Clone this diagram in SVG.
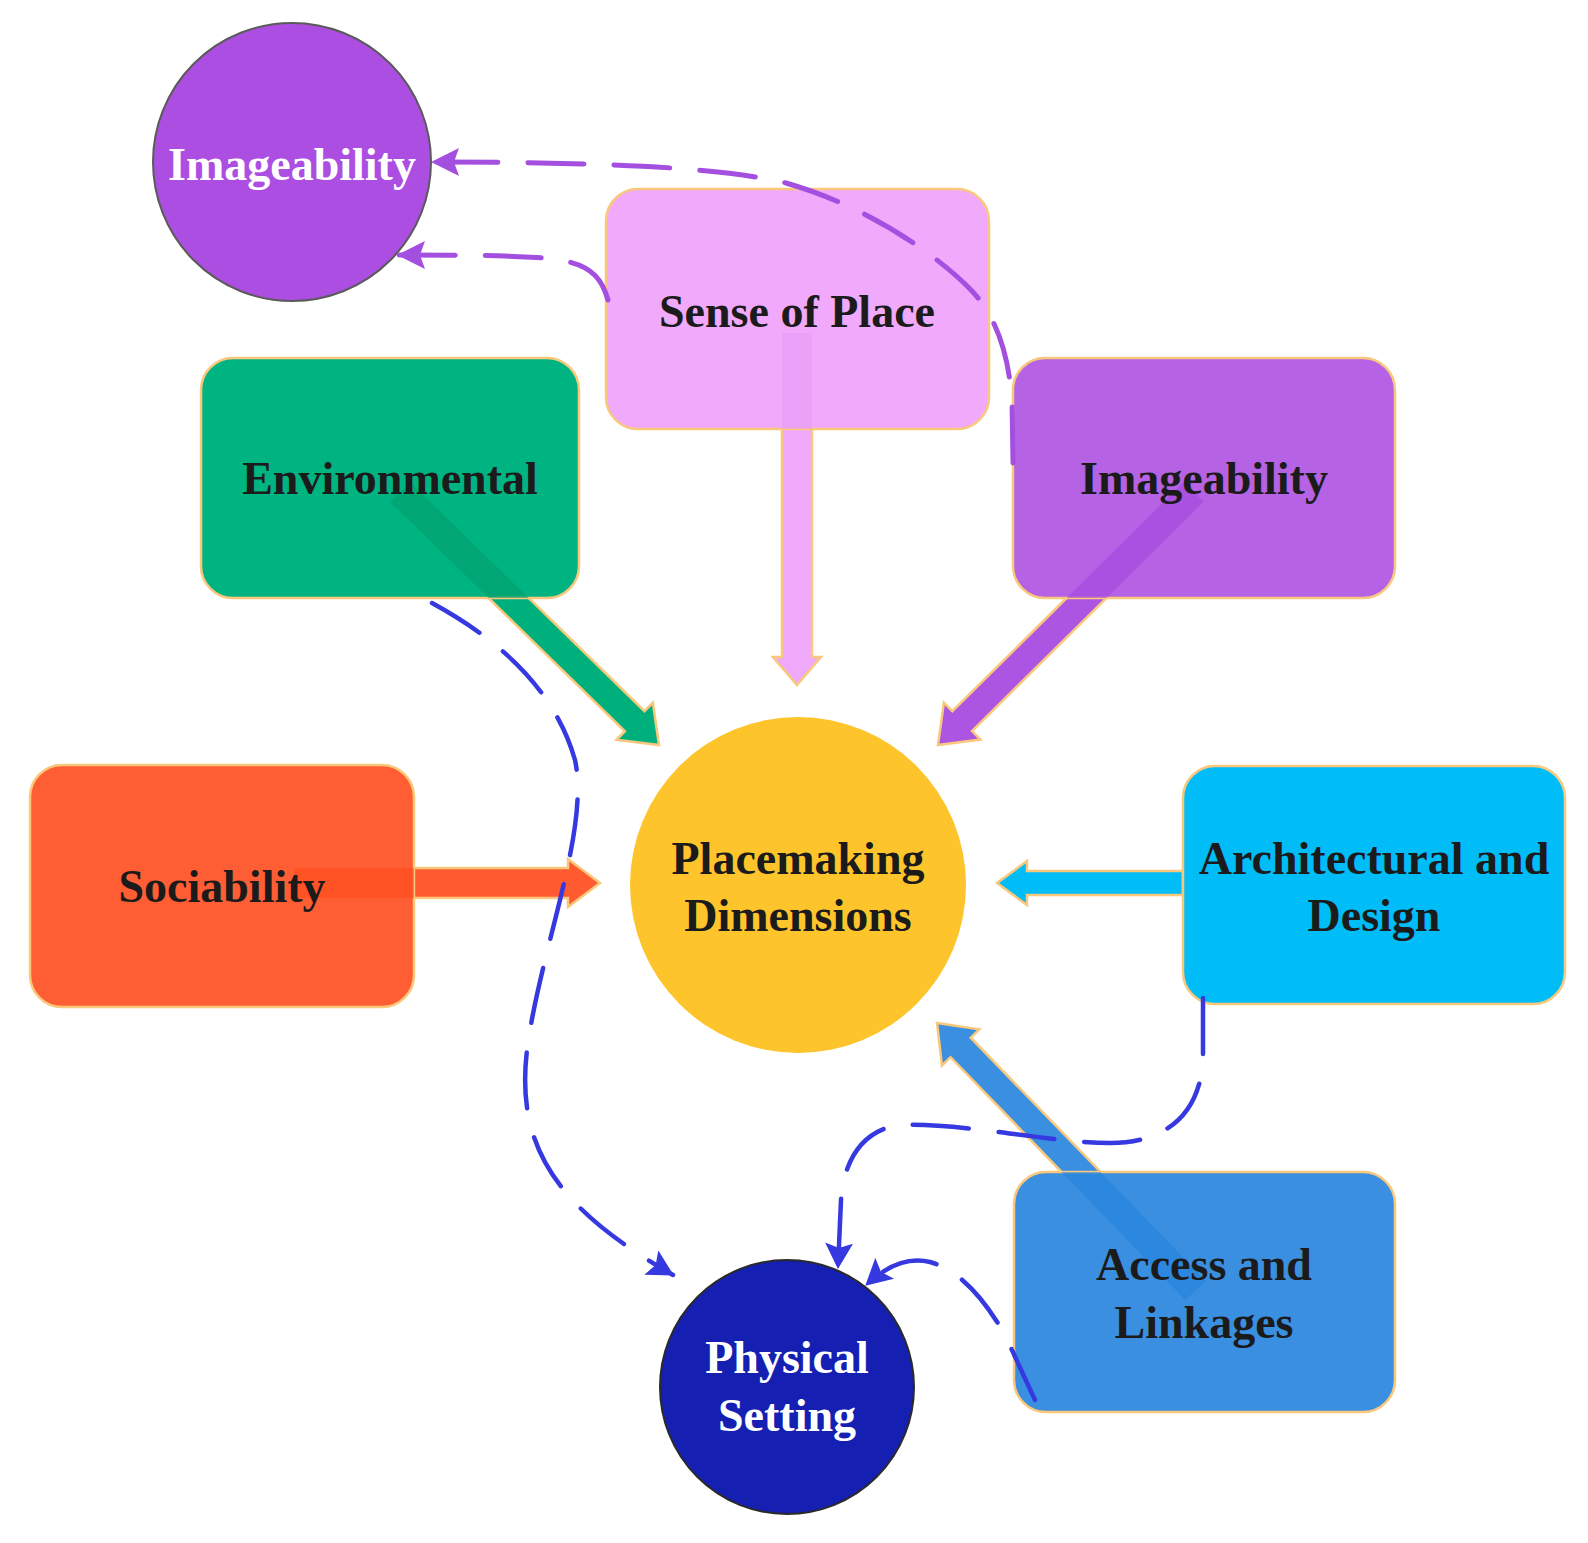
<svg xmlns="http://www.w3.org/2000/svg" width="1588" height="1543" viewBox="0 0 1588 1543">
<defs>
<style>
.box{stroke:#f9c87c;stroke-width:2.5}
.lbl{font-family:"Liberation Serif","DejaVu Serif",serif;font-weight:bold;font-size:46px;text-anchor:middle;fill:#1b1b1b}
.wlbl{font-family:"Liberation Serif","DejaVu Serif",serif;font-weight:bold;font-size:46px;text-anchor:middle;fill:#ffffff}
.blk{stroke:#f9c87c;stroke-width:2.5;stroke-linejoin:miter}
.ov{stroke:none;opacity:0.55}
.dp{fill:none;stroke:#a34fe0;stroke-width:5;stroke-dasharray:56 30;stroke-linecap:round}
.db{fill:none;stroke:#3539df;stroke-width:4.5;stroke-dasharray:56 30;stroke-linecap:round}
</style>
<clipPath id="cSense"><rect x="606" y="189" width="383" height="240" rx="32"/></clipPath>
<clipPath id="cEnv"><rect x="201" y="358" width="378" height="240" rx="32"/></clipPath>
<clipPath id="cImg"><rect x="1013" y="358" width="382" height="240" rx="32"/></clipPath>
<clipPath id="cSoc"><rect x="30" y="765" width="384" height="242" rx="32"/></clipPath>
<clipPath id="cAcc"><rect x="1014" y="1172" width="381" height="240" rx="32"/></clipPath>
<marker id="mp" viewBox="0 0 28 28" refX="27" refY="14" markerWidth="28" markerHeight="28" markerUnits="userSpaceOnUse" orient="auto">
<path d="M0,0 L28,14 L0,28 L5,14 Z" fill="#a34fe0"/>
</marker>
<marker id="mb" viewBox="0 0 26 28" refX="25" refY="14" markerWidth="26" markerHeight="28" markerUnits="userSpaceOnUse" orient="auto">
<path d="M0,0 L26,14 L0,28 L5,14 Z" fill="#3539df"/>
</marker>
</defs>
<rect width="1588" height="1543" fill="#ffffff"/>

<g id="connectors">
<g transform="translate(659,745) rotate(44.35)">
<polygon class="blk" fill="#00b07c" points="0,0 -34,-26 -34,-14 -376,-14 -376,14 -34,14 -34,26"/>
</g>
<g transform="translate(797,685) rotate(90)">
<polygon class="blk" fill="#efa9fb" points="0,0 -28,-24 -28,-15 -352,-15 -352,15 -28,15 -28,24"/>
</g>
<g transform="translate(938,745) rotate(135.3)">
<polygon class="blk" fill="#ad55e3" points="0,0 -34,-26 -34,-14 -374,-14 -374,14 -34,14 -34,26"/>
</g>
<g transform="translate(600,883)">
<polygon class="blk" fill="#ff5a30" points="0,0 -32,-24 -32,-15 -306,-15 -306,15 -32,15 -32,24"/>
</g>
<g transform="translate(997,883) rotate(180)">
<polygon class="blk" fill="#00bdf8" points="0,0 -30,-22 -30,-12 -186,-12 -186,12 -30,12 -30,22"/>
</g>
<g transform="translate(937,1023) rotate(-134.04)">
<polygon class="blk" fill="#3a8fe0" points="0,0 -34,-26 -34,-14 -378,-14 -378,14 -34,14 -34,26"/>
</g>
</g>

<g id="imageability-circle">
<circle cx="292" cy="162" r="139" fill="#ad4ee3" stroke="#5a5a5a" stroke-width="2"/>
<text class="wlbl" x="292" y="180">Imageability</text>
</g>
<g id="sense-of-place">
<rect class="box" x="606" y="189" width="383" height="240" rx="32" fill="#f0a9fb"/>
<g clip-path="url(#cSense)"><rect class="ov" x="782" y="333" width="30" height="100" fill="#e59af4"/></g>
<text class="lbl" x="797" y="327">Sense of Place</text>
</g>
<g id="environmental">
<rect class="box" x="201" y="358" width="378" height="240" rx="32" fill="#00b482"/>
<g clip-path="url(#cEnv)"><g transform="translate(659,745) rotate(44.35)"><polygon class="ov" fill="#009a68" points="-362,-14 -362,14 -150,14 -150,-14"/></g></g>
<text class="lbl" x="390" y="494">Environmental</text>
</g>
<g id="imageability-box">
<rect class="box" x="1013" y="358" width="382" height="240" rx="32" fill="#b562e4"/>
<g clip-path="url(#cImg)"><g transform="translate(938,745) rotate(135.3)"><polygon class="ov" fill="#a244e0" points="-360,-14 -360,14 -150,14 -150,-14"/></g></g>
<text class="lbl" x="1204" y="494">Imageability</text>
</g>
<g id="sociability">
<rect class="box" x="30" y="765" width="384" height="242" rx="32" fill="#ff5d34"/>
<g clip-path="url(#cSoc)"><rect class="ov" x="294" y="868" width="130" height="30" fill="#ff4a1c"/></g>
<text class="lbl" x="222" y="902">Sociability</text>
</g>
<g id="placemaking">
<circle cx="798" cy="885" r="168" fill="#fec42b"/>
<text class="lbl" x="798" y="874">Placemaking</text>
<text class="lbl" x="798" y="931">Dimensions</text>
</g>
<g id="architectural">
<rect class="box" x="1183" y="766" width="382" height="238" rx="32" fill="#00bdf8"/>
<text class="lbl" x="1374" y="874">Architectural and</text>
<text class="lbl" x="1374" y="931">Design</text>
</g>
<g id="access">
<rect class="box" x="1014" y="1172" width="381" height="240" rx="32" fill="#3a8fe0"/>
<g clip-path="url(#cAcc)"><g transform="translate(937,1023) rotate(-134.04)"><polygon class="ov" fill="#2183de" points="-372,-14 -372,14 -150,14 -150,-14"/></g></g>
<text class="lbl" x="1204" y="1280">Access and</text>
<text class="lbl" x="1204" y="1338">Linkages</text>
</g>
<g id="physical-setting">
<circle cx="787" cy="1387" r="127" fill="#1520b3" stroke="#2a2a2a" stroke-width="2"/>
<text class="wlbl" x="787" y="1373">Physical</text>
<text class="wlbl" x="787" y="1431">Setting</text>
</g>

<g id="dashed-connectors">
<path class="dp" marker-end="url(#mp)" d="M1013,463 L1012,400 C1008,350 995,315 971,290 C947,265 880,210 786,183 C720,167 600,162 432,162"/>
<path class="dp" marker-end="url(#mp)" d="M608,300 C600,272 585,262 545,258 C500,255 450,255 398,255"/>
<path class="db" marker-end="url(#mb)" d="M432,603 C500,640 555,690 575,760 C590,830 540,950 527,1050 C515,1150 560,1210 673,1275"/>
<path class="db" marker-end="url(#mb)" d="M1203,998 L1203,1060 C1200,1110 1170,1143 1110,1143 C1050,1143 960,1122 900,1125 C860,1130 843,1165 841,1200 L838,1268"/>
<path class="db" marker-end="url(#mb)" d="M1035,1400 L1005,1335 C985,1300 960,1270 930,1262 C905,1256 885,1268 866,1285"/>
</g>
</svg>
